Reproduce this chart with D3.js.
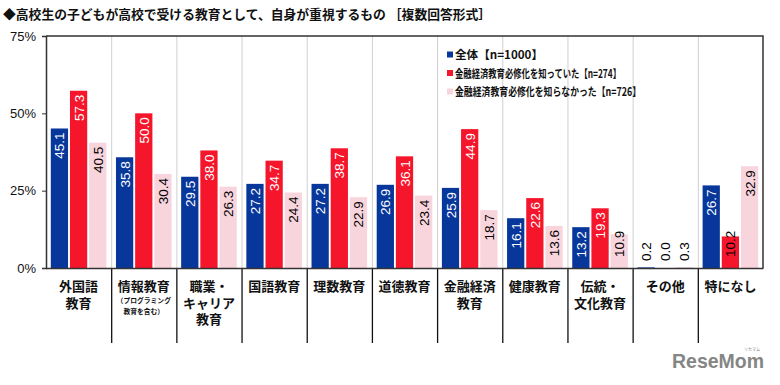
<!DOCTYPE html>
<html>
<head>
<meta charset="utf-8">
<script src="https://cdn.jsdelivr.net/npm/d3@7"></script>
<style>
	body { margin: 0; background: #fff; }
	svg { display: block; }
	.jp { font-family: "Noto Sans CJK JP", sans-serif; font-weight: bold; }
	.num { font-family: "Liberation Sans", Arial, sans-serif; }
</style>
</head>
<body>
<div id="chart"></div>
<script>

var categories = ['外国語教育', '情報教育', '職業・キャリア教育', '国語教育', '理数教育', '道徳教育', '金融経済教育', '健康教育', '伝統・文化教育', 'その他', '特になし'];
var catLines = [['外国語', '教育'], ['情報教育'], ['職業・', 'キャリア', '教育'], ['国語教育'], ['理数教育'], ['道徳教育'], ['金融経済', '教育'], ['健康教育'], ['伝統・', '文化教育'], ['その他'], ['特になし']];
var catNotes = [[], ['（プログラミング', '教育を含む）'], [], [], [], [], [], [], [], [], []];

var seriesNames = ['全体【n=1000】', '金融経済教育必修化を知っていた【n=274】', '金融経済教育必修化を知らなかった【n=726】'];
var allValues = [45.1, 35.8, 29.5, 27.2, 27.2, 26.9, 25.9, 16.1, 13.2, 0.2, 26.7];
var knewValues = [57.3, 50.0, 38.0, 34.7, 38.7, 36.1, 44.9, 22.6, 19.3, 0.0, 10.2];
var didntValues = [40.5, 30.4, 26.3, 24.4, 22.9, 23.4, 18.7, 13.6, 10.9, 0.3, 32.9];
var yTicks = [0, 25, 50, 75];

var colors = ['#07379b', '#f5162c', '#f8d4dd'];
var labelColors = ['#fff', '#fff', '#000'];
var series = [allValues, knewValues, didntValues];

var width = 780, height = 385;
var pLeft = 46, pRight = 763, pTop = 36, pBottom = 268;

var svg = d3.select('#chart').append('svg').attr('width', width).attr('height', height);

var x = d3.scaleBand().domain(categories).range([pLeft, pRight]);
var xs = d3.scaleBand().domain([0, 1, 2]).range([0, x.bandwidth()]).paddingInner(0.1).paddingOuter(0.25);
var y = d3.scaleLinear().domain([0, 75]).range([pBottom, pTop]);

// title
svg.append('text')
	.attr('class', 'jp')
	.attr('x', 3)
	.attr('y', 19)
	.style('font-size', '12.8px')
	.attr('fill', '#111')
	.text('◆高校生の子どもが高校で受ける教育として、自身が重視するもの ［複数回答形式］');

// vertical grid lines
svg.append('g').selectAll('line')
	.data(categories.slice(1))
	.enter().append('line')
	.attr('x1', function(d) { return x(d) + 0.5; })
	.attr('x2', function(d) { return x(d) + 0.5; })
	.attr('y1', pTop)
	.attr('y2', pBottom)
	.attr('stroke', '#d0d0d0')
	.attr('stroke-width', 1);

// separators below the axis
svg.append('g').selectAll('line')
	.data(categories.slice(1))
	.enter().append('line')
	.attr('x1', function(d) { return x(d) + 0.5; })
	.attr('x2', function(d) { return x(d) + 0.5; })
	.attr('y1', pBottom)
	.attr('y2', 343)
	.attr('stroke', '#111')
	.attr('stroke-width', 1.3);

// bars
var groups = svg.append('g').selectAll('g')
	.data(categories)
	.enter().append('g')
	.attr('transform', function(d) { return 'translate(' + x(d) + ',0)'; });

groups.each(function(cat, ci) {
	var g = d3.select(this);
	series.forEach(function(vals, si) {
		var v = vals[ci];
		var bx = xs(si);
		var h = y(0) - y(v);
		g.append('rect')
			.attr('x', bx)
			.attr('y', y(v))
			.attr('width', xs.bandwidth())
			.attr('height', h)
			.attr('fill', colors[si]);

		var cx = bx + xs.bandwidth() / 2 + 5;
		var small = h < 34;
		g.append('text')
			.attr('class', 'num')
			.style('font-size', '13.5px')
			.attr('transform', small
				? 'translate(' + cx + ',' + (y(0) - (v < 5 ? 7 : 11)) + ') rotate(-90)'
				: 'translate(' + cx + ',' + (y(v) + 4) + ') rotate(-90)')
			.attr('text-anchor', small ? 'start' : 'end')
			.attr('fill', small ? '#000' : labelColors[si])
			.text(v.toFixed(1));
	});
});

// frame
svg.append('path')
	.attr('d', 'M' + pLeft + ',' + pTop + 'H' + pRight + 'V' + pBottom)
	.attr('fill', 'none')
	.attr('stroke', '#333')
	.attr('stroke-width', 1.5);

// y axis
var yAxis = d3.axisLeft(y).tickValues(yTicks).tickSize(4).tickFormat(function(d) { return d + '%'; });
var ya = svg.append('g').attr('transform', 'translate(' + pLeft + ',0)').call(yAxis);
ya.select('.domain').attr('stroke', '#333').attr('stroke-width', 1.5);
ya.selectAll('.tick line').attr('stroke', '#333');
ya.selectAll('.tick text')
	.attr('class', 'num')
	.style('font-size', '13px')
	.attr('fill', '#111')
	.attr('dx', '-3');

// x axis
var xAxis = d3.axisBottom(x).tickSize(0).tickFormat('');
var xa = svg.append('g').attr('transform', 'translate(0,' + pBottom + ')').call(xAxis);
xa.select('.domain').attr('stroke', '#333').attr('stroke-width', 1.5);

// category labels
var cl = svg.append('g').selectAll('g')
	.data(categories)
	.enter().append('g')
	.attr('transform', function(d) { return 'translate(' + (x(d) + x.bandwidth() / 2) + ',0)'; });

cl.each(function(cat, ci) {
	var g = d3.select(this);
	catLines[ci].forEach(function(line, li) {
		g.append('text')
			.attr('class', 'jp')
			.attr('text-anchor', 'middle')
			.attr('y', 291 + li * 16.5)
			.style('font-size', '13px')
			.attr('fill', '#111')
			.text(line);
	});
	catNotes[ci].forEach(function(line, li) {
		g.append('text')
			.attr('class', 'jp')
			.attr('text-anchor', 'middle')
			.attr('y', 303 + li * 10.5)
			.style('font-size', '6.8px')
			.attr('fill', '#111')
			.text(line);
	});
});

// legend
var legend = svg.append('g').attr('transform', 'translate(447,0)');
seriesNames.forEach(function(name, i) {
	var ly = 59 + i * 18.5;
	legend.append('rect')
		.attr('x', 0)
		.attr('y', ly - 7.5)
		.attr('width', 6)
		.attr('height', 6)
		.attr('fill', colors[i]);
	legend.append('text')
		.attr('class', 'jp')
		.attr('x', 8)
		.attr('y', ly)
		.style('font-size', '11.5px')
		.attr('textLength', [88, 166, 186][i])
		.attr('lengthAdjust', 'spacingAndGlyphs')
		.attr('fill', '#111')
		.text(name);
});

// logo
svg.append('text')
	.attr('x', 672)
	.attr('y', 368)
	.style('font-family', '"Liberation Sans", Arial, sans-serif')
	.style('font-weight', 'bold')
	.style('font-size', '21px')
	.attr('textLength', 92)
	.attr('lengthAdjust', 'spacingAndGlyphs')
	.attr('fill', '#858585')
	.text('ReseMom');
svg.append('text')
	.attr('x', 752)
	.attr('y', 351)
	.attr('text-anchor', 'middle')
	.style('font-family', '"Noto Sans CJK JP", sans-serif')
	.style('font-size', '4px')
	.attr('fill', '#858585')
	.text('リセマム');

</script>
</body>
</html>
